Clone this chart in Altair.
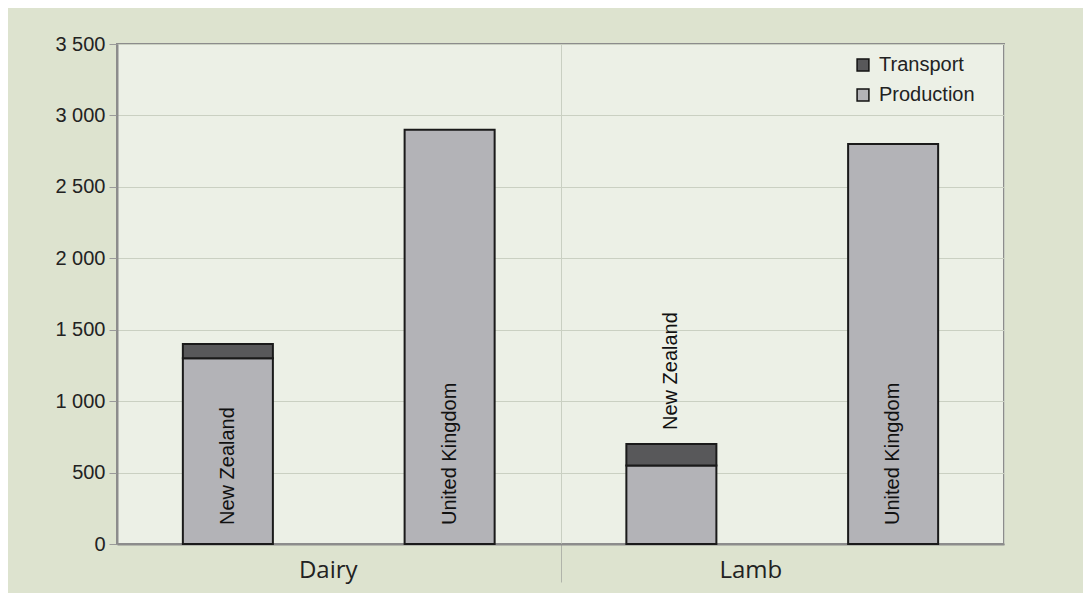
import altair as alt
import pandas as pd

# ---- data ----
groups = ["Dairy", "Dairy", "Lamb", "Lamb"]
countries = ["New Zealand", "United Kingdom", "New Zealand", "United Kingdom"]
production = [1300, 2900, 550, 2800]
transport = [100, 0, 150, 0]
label_inside = [True, True, False, True]

components = ["Transport", "Production"]
comp_colors = ["#58585a", "#b3b3b7"]
y_ticks = [0, 500, 1000, 1500, 2000, 2500, 3000, 3500]

rows = []
for g, c, p, t in zip(groups, countries, production, transport):
    rows.append({"group": g, "country": c, "component": "Production", "value": p, "stack_idx": 0})
    if t > 0:
        rows.append({"group": g, "country": c, "component": "Transport", "value": t, "stack_idx": 1})
bars_df = pd.DataFrame(rows)

labels_df = pd.DataFrame({
    "group": groups,
    "country": countries,
    "total": [p + t for p, t in zip(production, transport)],
    "inside": label_inside,
})

FONT = "Liberation Sans"

x_axis = alt.Axis(
    tickBand="extent", grid=True, gridColor="#c9cfc2", gridWidth=1,
    ticks=True, tickSize=38, tickColor="#b0b4aa", tickWidth=1,
    tickOpacity=alt.condition("datum.value === 'Dairy'", alt.value(1), alt.value(0)),
    domainColor="#8c8c8c", domainWidth=2,
    labelFont="Open Sans", labelFontSize=24, labelColor="#222222",
    labelAngle=0, labelPadding=-24,
    labelOffset=alt.condition("datum.value === 'Dairy'", alt.value(-11), alt.value(-32)),
)
x_scale = alt.Scale(paddingInner=0, paddingOuter=0)
xoff_scale = alt.Scale(paddingInner=0.594, paddingOuter=0.297)

y_axis = alt.Axis(
    values=y_ticks,
    labelExpr="replace(format(datum.value, ','), ',', ' ')",
    labelFont=FONT, labelFontSize=20, labelColor="#222222",
    tickSize=8, tickColor="#9a9a9a", labelPadding=4,
    domainColor="#8c8c8c", domainWidth=2,
    grid=True, gridColor="#cad0c2", gridWidth=1,
)
y_scale = alt.Scale(domain=[0, 3500], nice=False)

bars = alt.Chart(bars_df).mark_bar(stroke="#1a1a1a", strokeWidth=2).encode(
    x=alt.X("group:N", title=None, scale=x_scale, axis=x_axis),
    xOffset=alt.XOffset("country:N", scale=xoff_scale),
    y=alt.Y("value:Q", stack="zero", title=None, scale=y_scale, axis=y_axis),
    color=alt.Color(
        "component:N",
        scale=alt.Scale(domain=components, range=comp_colors),
        legend=alt.Legend(
            title=None, orient="none", legendX=736, legendY=11,
            symbolType="square", symbolSize=140,
            symbolStrokeColor="#111111", symbolStrokeWidth=1.5,
            labelFont=FONT, labelFontSize=20, labelColor="#222222",
            labelOffset=6, rowPadding=10, padding=0,
        ),
    ),
    order=alt.Order("stack_idx:Q", sort="ascending"),
)

text_in = alt.Chart(labels_df).transform_filter("datum.inside").transform_calculate(
    base="0"
).mark_text(angle=270, align="left", baseline="middle", dx=19,
            font=FONT, fontSize=20, color="#111111").encode(
    x=alt.X("group:N", title=None, scale=x_scale, axis=x_axis),
    xOffset=alt.XOffset("country:N", scale=xoff_scale),
    y=alt.Y("base:Q", title=None, scale=y_scale, axis=y_axis),
    text="country:N",
)

text_out = alt.Chart(labels_df).transform_filter("!datum.inside").mark_text(
    angle=270, align="left", baseline="middle", dx=14,
    font=FONT, fontSize=20, color="#111111").encode(
    x=alt.X("group:N", title=None, scale=x_scale, axis=x_axis),
    xOffset=alt.XOffset("country:N", scale=xoff_scale),
    y=alt.Y("total:Q", title=None, scale=y_scale, axis=y_axis),
    text="country:N",
)

chart = alt.layer(bars, text_in, text_out).properties(
    width=887, height=500,
    background="#dde3cf",
    padding={"left": 109, "top": 36, "right": 79, "bottom": 49},
    autosize=alt.AutoSizeParams(type="none"),
).configure_view(fill="#ecf0e6", stroke="#8c8c8c", strokeWidth=2)

chart.save("out.html", embed_options={"renderer": "svg", "actions": False})
